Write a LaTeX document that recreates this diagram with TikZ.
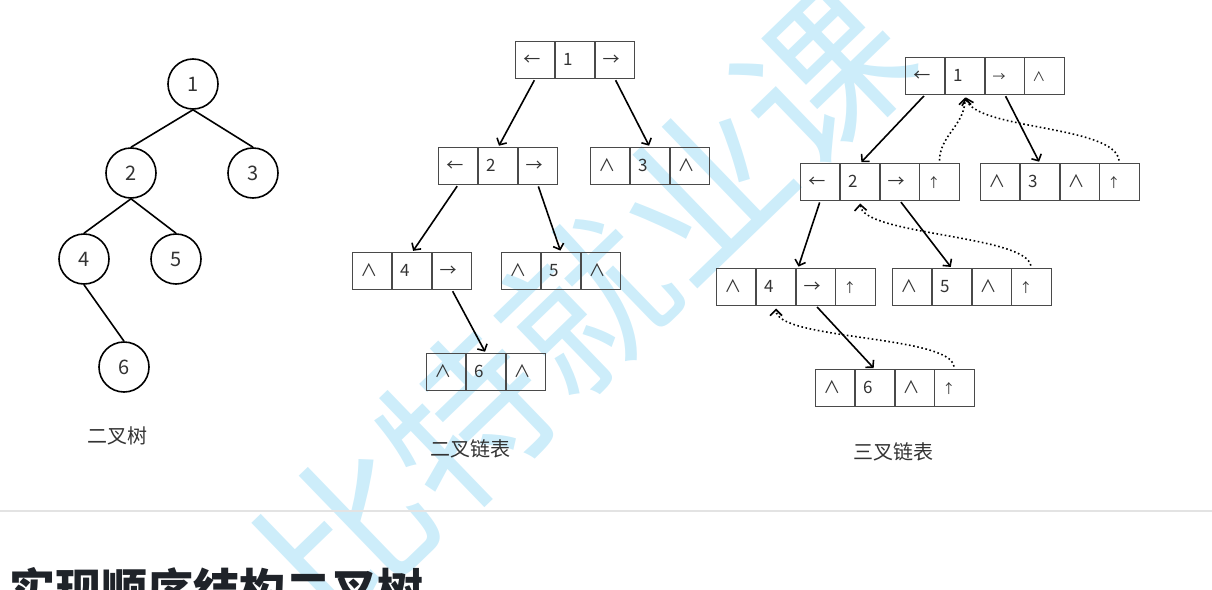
\documentclass[tikz,border=0pt]{standalone}
\usepackage{fontspec}
\setmainfont{Noto Sans CJK SC}
\usepackage{xcolor}
\usetikzlibrary{positioning, arrows.meta}

\definecolor{inkgray}{HTML}{333333}
\definecolor{boxgray}{HTML}{4A4A4A}
\definecolor{rulegray}{HTML}{E3E3E3}
\definecolor{markblue}{RGB}{205,237,250}
\definecolor{headink}{HTML}{1F2329}
\newcommand\tinysym{\fontsize{13}{16}\selectfont}

\begin{document}
\begin{tikzpicture}[x=1pt, y=-1pt, >={Straight Barb[length=5pt,width=11pt]},
    treenode/.style={circle, draw, line width=1.6pt, minimum size=50pt, inner sep=0pt,
        font=\fontsize{20}{24}\selectfont, text=inkgray},
    treeedge/.style={line width=1.6pt},
    cell/.style={draw=boxgray, line width=1.4pt, minimum width=39.7pt, minimum height=37pt,
        inner sep=0pt, outer sep=0pt, text width=24pt, align=left, text height=13pt, text depth=3pt,
        font=\fontsize{17}{20}\selectfont, text=inkgray},
    childarrow/.style={->, line width=1.6pt, shorten <=2pt, shorten >=2pt},
    parentarrow/.style={-{Straight Barb[length=6pt,width=12pt]}, dash pattern=on 1.6pt off 2.6pt,
        line width=1.6pt, shorten <=3pt, shorten >=3pt},
    caption/.style={font=\fontsize{20}{24}\selectfont, text=inkgray}]

    \useasboundingbox (0,0) rectangle (1212,589);

    % Watermark behind everything
    \node[rotate=44, text=markblue, font=\fontsize{165}{165}\selectfont] (mark) at (585,305) {比特就业课};

    % Binary tree
    \node[treenode] (n1) at (193,84) {1};
    \node[treenode] (n2) at (131,173) {2};
    \node[treenode] (n3) at (253,173) {3};
    \node[treenode] (n4) at (84,259) {4};
    \node[treenode] (n5) at (176,259) {5};
    \node[treenode] (n6) at (124,367) {6};
    \draw[treeedge] (n1.south) -- (n2.north);
    \draw[treeedge] (n1.south) -- (n3.north);
    \draw[treeedge] (n2.south) -- (n4.north);
    \draw[treeedge] (n2.south) -- (n5.north);
    \draw[treeedge] (n4.south) -- (n6.north);
    \node[caption] (cap1) at (117,436) {二叉树};

    % Binary linked list: left / data / right
    \foreach \name/\cx/\cy/\l/\d/\r in {b1/575/60/←/1/→, b2/498/166/←/2/→, b3/650/166/∧/3/∧,
        b4/412/271/∧/4/→, b5/561/271/∧/5/∧, b6/486/372/∧/6/∧} {
        \node[cell] (\name-d) at (\cx,\cy) {\d};
        \node[cell, left=0pt of \name-d] (\name-l) {\l};
        \node[cell, right=0pt of \name-d] (\name-r) {\r};
    }
    \draw[childarrow] (b1-l.south) -- (b2-d.north);
    \draw[childarrow] (b1-r.south) -- (b3-d.north);
    \draw[childarrow] (b2-l.south) -- (b4-d.north);
    \draw[childarrow] (b2-r.south) -- (b5-d.north);
    \draw[childarrow] (b4-r.south) -- (b6-d.north);
    \node[caption] (cap2) at (470,449) {二叉链表};

    % Trinary linked list: left / data / right / parent
    \foreach \name/\cx/\cy/\l/\d/\r/\p in {t1/965/76/←/1/{\tinysym →}/{\tinysym ∧},
        t2/860/182/←/2/→/{\tinysym ↑}, t3/1040/182/∧/3/∧/{\tinysym ↑},
        t4/776/287/∧/4/→/{\tinysym ↑}, t5/952/287/∧/5/∧/{\tinysym ↑},
        t6/875/388/∧/6/∧/{\tinysym ↑}} {
        \node[cell] (\name-d) at (\cx,\cy) {\d};
        \node[cell, left=0pt of \name-d] (\name-l) {\l};
        \node[cell, right=0pt of \name-d] (\name-r) {\r};
        \node[cell, right=0pt of \name-r] (\name-p) {\p};
    }
    \draw[childarrow] (t1-l.south) -- (t2-d.north);
    \draw[childarrow] (t1-r.south) -- (t3-d.north);
    \draw[childarrow] (t2-l.south) -- ([xshift=2pt]t4-d.north east);
    \draw[childarrow] (t2-r.south) -- (t5-d.north);
    \draw[childarrow] (t4-r.south) -- (t6-d.north);

    % parent pointers
    \draw[parentarrow] (t2-p.north) .. controls (940,135) and (965,125) .. (t1-d.south);
    \draw[parentarrow] (t3-p.north) .. controls (1115,125) and (975,130) .. (t1-d.south);
    \draw[parentarrow] (t5-p.north) .. controls (1025,235) and (862,235) .. (t2-d.south);
    \draw[parentarrow] (t6-p.north) .. controls (950,335) and (776,340) .. (t4-d.south);
    \node[caption] (cap3) at (893,452) {三叉链表};

    % Rule and next heading
    \draw[rulegray, line width=1.5pt] (0,511) -- (1212,511);
    \node[anchor=base west, font=\fontsize{46}{50}\selectfont\bfseries, text=headink] (title) at (6,607) {实现顺序结构二叉树};

\end{tikzpicture}
\end{document}
